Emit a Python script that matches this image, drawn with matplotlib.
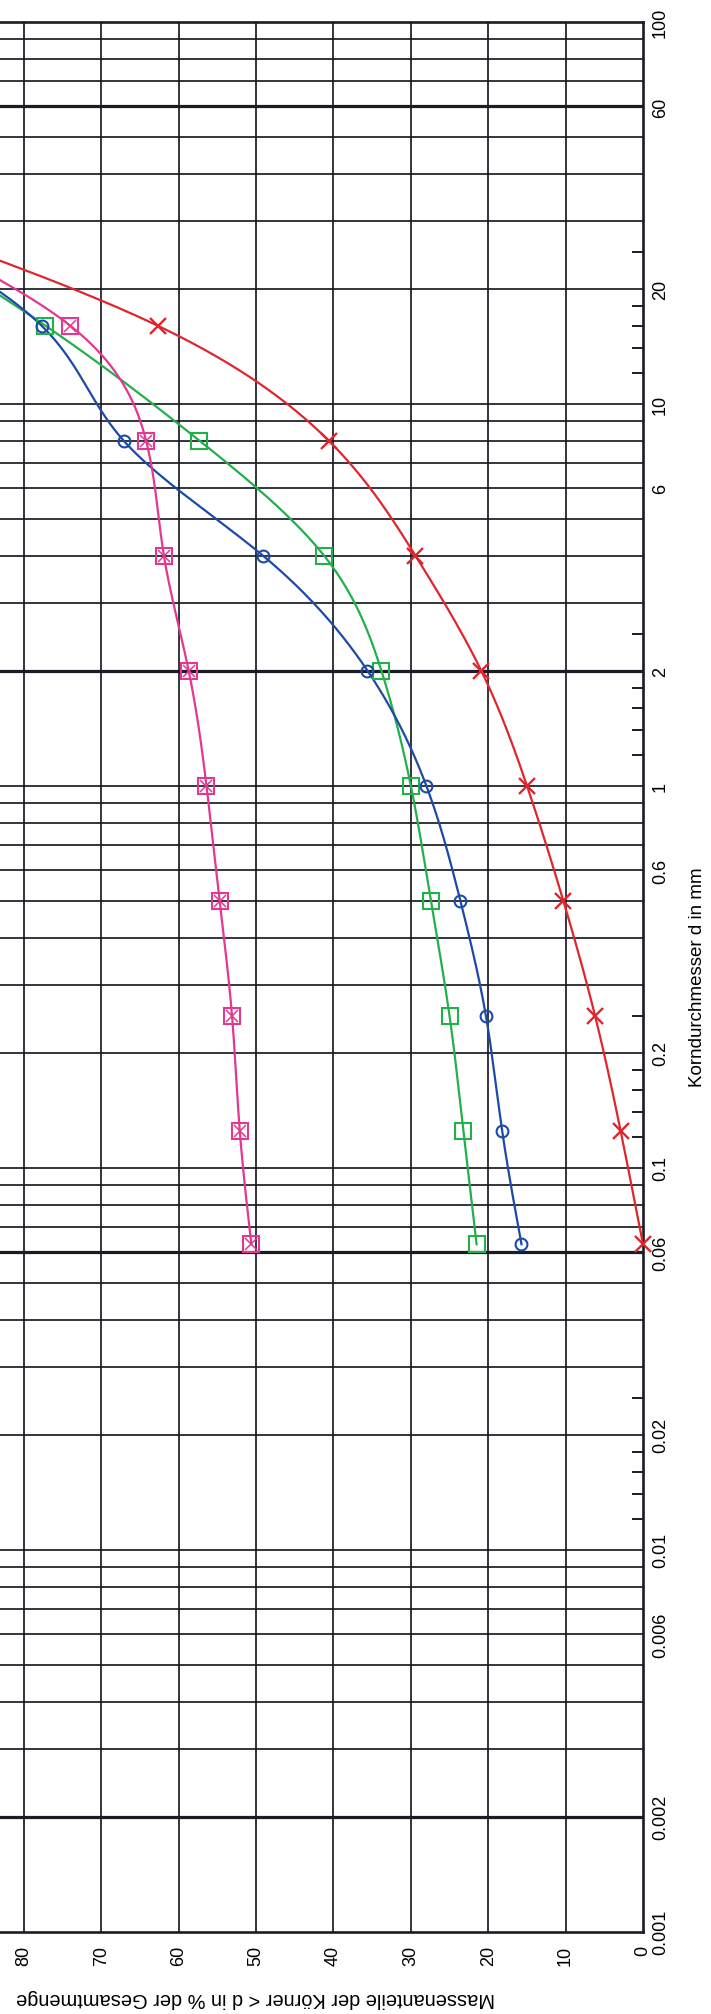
import numpy as np
import matplotlib
matplotlib.use("Agg")
import matplotlib.pyplot as plt

plt.rcParams['font.family'] = ['Liberation Sans', 'DejaVu Sans']

# sieve sizes (mm) and mass passing (%)
sizes = [0.063, 0.125, 0.25, 0.5, 1, 2, 4, 8, 16, 31.5]
blue = [15.7, 18.2, 20.3, 23.6, 28.0, 35.6, 49.1, 67.1, 77.7, 100]
green = [21.5, 23.2, 25.0, 27.4, 30.0, 33.8, 41.2, 57.3, 77.2, 100]
pink = [50.6, 52.1, 53.1, 54.7, 56.4, 58.7, 61.9, 64.2, 74.0, 100]
red = [0.0, 2.9, 6.2, 10.3, 15.0, 20.9, 29.4, 40.6, 62.7, 100]

size_ticks = [0.001, 0.002, 0.006, 0.01, 0.02, 0.06, 0.1, 0.2, 0.6, 1, 2, 6, 10, 20, 60, 100]
size_labels = ["0.001", "0.002", "0.006", "0.01", "0.02", "0.06", "0.1", "0.2",
               "0.6", "1", "2", "6", "10", "20", "60", "100"]
pct_ticks = list(range(0, 81, 10))
bold_sizes = [0.002, 0.06, 2, 60]

grid_col = "#1b1b26"


# _______________________________________________________________________________
""" natural cubic spline through the points (log x), only used to draw the line """


def smooth_curve(x, y, n=600):
    lx = np.log10(np.asarray(x, float))
    y = np.asarray(y, float)
    N = len(lx)
    h = np.diff(lx)
    A = np.zeros((N, N))
    b = np.zeros(N)
    A[0, 0] = 1.0
    A[-1, -1] = 1.0
    for i in range(1, N - 1):
        A[i, i - 1] = h[i - 1]
        A[i, i] = 2 * (h[i - 1] + h[i])
        A[i, i + 1] = h[i]
        b[i] = 6 * ((y[i + 1] - y[i]) / h[i] - (y[i] - y[i - 1]) / h[i - 1])
    M = np.linalg.solve(A, b)
    xs = np.linspace(lx[0], lx[-1], n)
    i = np.clip(np.searchsorted(lx, xs) - 1, 0, N - 2)
    hi = h[i]
    a1 = lx[i + 1] - xs
    a2 = xs - lx[i]
    ys = (M[i] * a1**3 / (6 * hi) + M[i + 1] * a2**3 / (6 * hi)
          + (y[i] / hi - M[i] * hi / 6) * a1 + (y[i + 1] / hi - M[i + 1] * hi / 6) * a2)
    return 10**xs, ys


fig = plt.figure(figsize=(7.11, 20.15), dpi=100)
# the sheet is turned on its side: percent runs right->left, grain size bottom->top
ax = fig.add_axes([-131 / 711, 0.04094, 774 / 711, 0.94779])
ax.set_yscale("log")
ax.set_ylim(0.001, 100)
ax.set_xlim(100, 0)

# horizontal grid (grain size)
for k in range(-3, 2):
    base = 10.0**k
    levels = [m * base for m in range(2, 10)] + [10 * base]
    for v in levels:
        if v >= 100:
            continue
        bold = any(abs(v - b) / b < 1e-6 for b in bold_sizes)
        ax.axhline(v, color=grid_col, lw=2.3 if bold else 1.25, zorder=1)

# vertical grid (percent)
for p in range(10, 100, 10):
    ax.axvline(p, color=grid_col, lw=1.25, zorder=1)

series = [
    (red, "#e0262d", "x"),
    (green, "#22b04b", "s"),
    (blue, "#1d4aa6", "o"),
    (pink, "#e4378f", "s"),
]
for vals, col, mk in series:
    cs, cp = smooth_curve(sizes, vals)
    ax.plot(cp, cs, color=col, lw=1.6, zorder=3)
    if mk == "x":
        ax.plot(vals, sizes, ls="none", marker="x", ms=11.5, mew=1.7, color=col,
                zorder=4, clip_on=False)
    elif mk == "o":
        ax.plot(vals, sizes, ls="none", marker="o", ms=8.5, mew=1.5, mfc="none",
                mec=col, zorder=4, clip_on=False)
    else:
        ax.plot(vals, sizes, ls="none", marker="s", ms=11, mew=1.5, mfc="none",
                mec=col, zorder=4, clip_on=False)

# boxed cross for the magenta series
ax.plot(pink, sizes, ls="none", marker="x", ms=8, mew=1.1, color="#e4378f", zorder=4)

for side in ["top", "right", "bottom"]:
    ax.spines[side].set_linewidth(1.9)
    ax.spines[side].set_color(grid_col)
ax.spines["left"].set_visible(False)

ax.yaxis.tick_right()
ax.set_yticks(size_ticks)
ax.set_yticklabels(size_labels, rotation=90, va="center", ha="left")
minor = []
for k in range(-2, 2):
    minor += [m * 10.0**k for m in (1.2, 1.4, 1.6, 1.8, 2.5)]
ax.set_yticks(minor, minor=True)
ax.tick_params(axis="y", which="minor", direction="in", length=8, width=1.4,
               color=grid_col, labelright=False, left=False)
ax.tick_params(axis="y", which="major", length=0, pad=6.5, labelsize=13)

ax.set_xticks(pct_ticks)
ax.set_xticklabels([str(p) for p in pct_ticks], rotation=90, va="top", ha="center")
ax.tick_params(axis="x", which="major", length=0, pad=9.7, labelsize=13)
ax.tick_params(axis="x", which="minor", length=0)

ax.set_xlabel("Massenanteile der Körner < d in % der Gesamtmenge", rotation=180,
              fontsize=14.4, va="center", ha="center")
ax.xaxis.set_label_coords(0.5, -0.0343)
ax.yaxis.set_label_position("right")
ax.set_ylabel("Korndurchmesser d in mm", rotation=90, fontsize=13.5,
              va="center", ha="center")
ax.yaxis.set_label_coords(1.0698, 0.5)

fig.savefig("out.png", dpi=100)
